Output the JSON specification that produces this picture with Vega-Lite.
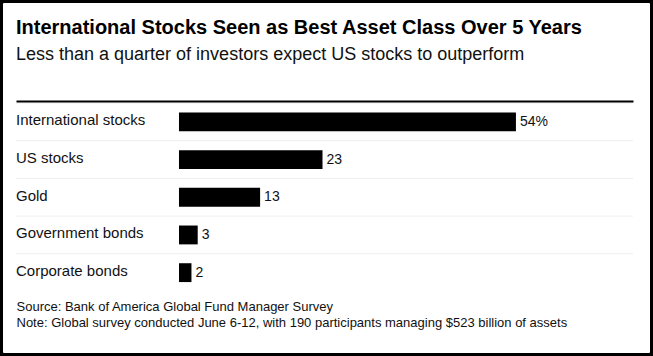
{
  "$schema": "https://vega.github.io/schema/vega-lite/v6.json",
  "width": 653,
  "height": 356,
  "autosize": {"type": "none"},
  "padding": 0,
  "background": "white",
  "config": {
    "view": {"stroke": "black", "strokeWidth": 6, "cornerRadius": 4},
    "font": "Liberation Sans"
  },
  "title": {
    "text": "International Stocks Seen as Best Asset Class Over 5 Years",
    "subtitle": "Less than a quarter of investors expect US stocks to outperform",
    "anchor": "start",
    "frame": "group",
    "dx": 16,
    "offset": -64,
    "font": "Liberation Sans",
    "fontSize": 20,
    "fontWeight": "bold",
    "color": "#000000",
    "subtitleFont": "Liberation Sans",
    "subtitleFontSize": 18,
    "subtitleColor": "#111111",
    "subtitlePadding": 8
  },
  "data": {
    "values": [
      {"category": "International stocks", "value": 54, "label": "54%"},
      {"category": "US stocks", "value": 23, "label": "23"},
      {"category": "Gold", "value": 13, "label": "13"},
      {"category": "Government bonds", "value": 3, "label": "3"},
      {"category": "Corporate bonds", "value": 2, "label": "2"}
    ]
  },
  "layer": [
    {
      "mark": {"type": "rule", "color": "#eeeeee", "strokeWidth": 1},
      "encoding": {
        "y": {"field": "category", "type": "nominal", "sort": null, "bandPosition": -0.5, "axis": null},
        "x": {"datum": -26.12, "type": "quantitative", "axis": null},
        "x2": {"datum": 72.76}
      }
    },
    {
      "mark": {"type": "bar", "color": "#000000"},
      "encoding": {
        "y": {
          "field": "category",
          "type": "nominal",
          "sort": null,
          "scale": {"range": [103, 291.5], "paddingInner": 0.5, "paddingOuter": 0.25},
          "axis": null
        },
        "x": {
          "field": "value",
          "type": "quantitative",
          "scale": {"domain": [-26.12, 72.76], "range": [16, 633], "nice": false, "zero": false},
          "axis": {
            "orient": "top",
            "offset": -101,
            "domain": true,
            "domainColor": "#000000",
            "domainWidth": 2,
            "labels": false,
            "ticks": false,
            "grid": false,
            "title": null,
            "zindex": 2
          }
        },
        "x2": {"datum": 0}
      }
    },
    {
      "mark": {"type": "text", "align": "left", "baseline": "middle", "dy": -1.5, "fontSize": 15, "color": "#111111"},
      "encoding": {
        "y": {"field": "category", "type": "nominal", "sort": null, "axis": null},
        "x": {"datum": -26.12, "type": "quantitative", "axis": null},
        "text": {"field": "category"}
      }
    },
    {
      "mark": {"type": "text", "align": "left", "baseline": "middle", "dx": 4, "fontSize": 14, "color": "#111111"},
      "encoding": {
        "y": {"field": "category", "type": "nominal", "sort": null, "axis": null},
        "x": {
          "field": "value",
          "type": "quantitative",
          "axis": {
            "orient": "bottom",
            "offset": -56,
            "domain": false,
            "labels": false,
            "ticks": false,
            "grid": false,
            "minExtent": 0,
            "maxExtent": 0,
            "title": ["Source: Bank of America Global Fund Manager Survey", "Note: Global survey conducted June 6-12, with 190 participants managing $523 billion of assets"],
            "titleAnchor": "start",
            "titleAlign": "left",
            "titleBaseline": "top",
            "titlePadding": 0,
            "titleFontSize": 13,
            "titleFontWeight": "normal",
            "titleColor": "#111111",
            "titleFont": "Liberation Sans",
            "titleLineHeight": 16
          }
        },
        "text": {"field": "label"}
      }
    }
  ]
}
